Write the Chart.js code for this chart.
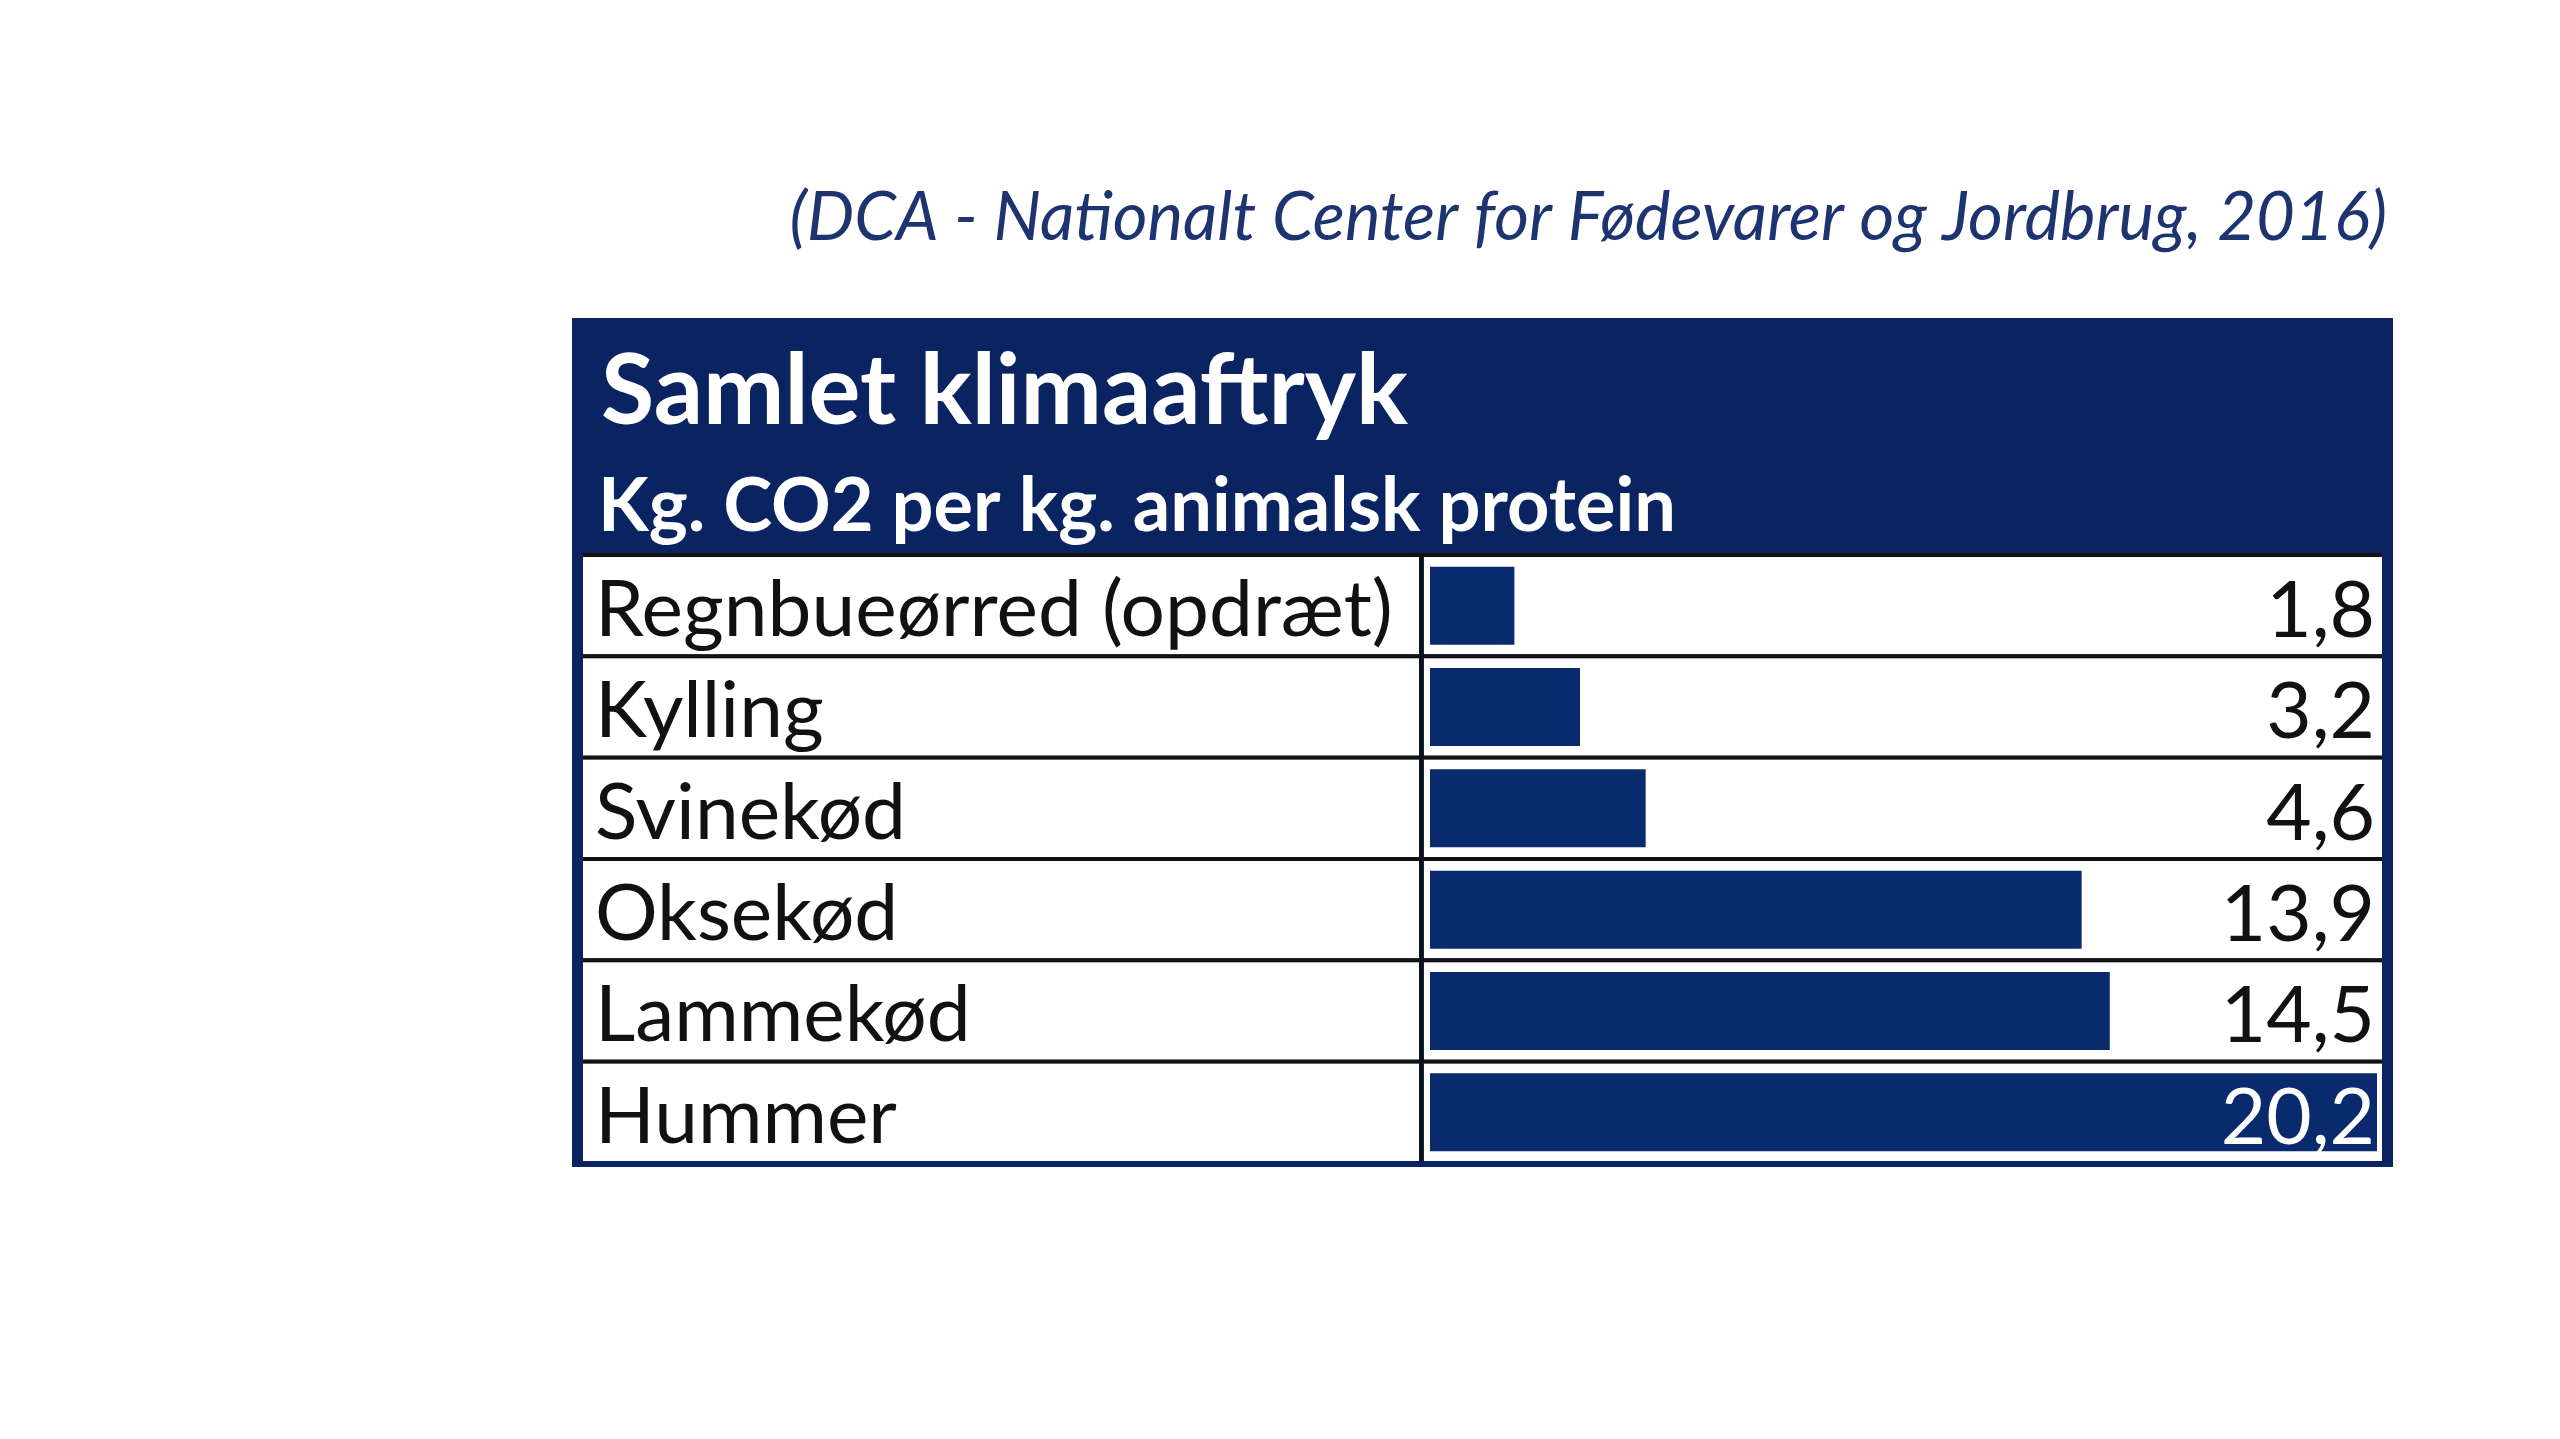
<!DOCTYPE html>
<html>
<head>
<meta charset="utf-8">
<script src="https://cdn.jsdelivr.net/npm/chart.js@4.4.1/dist/chart.umd.min.js"></script>
<style>
  html, body { margin: 0; padding: 0; background: #ffffff; }
  canvas { display: block; }
</style>
</head>
<body>
<canvas id="myChart" width="2560" height="1439"></canvas>
<script>

// data
const categories = ['Regnbueørred (opdræt)', 'Kylling', 'Svinekød', 'Oksekød', 'Lammekød', 'Hummer'];
const values = [1.8, 3.2, 4.6, 13.9, 14.5, 20.2];
const title = 'Samlet klimaaftryk';
const subtitle = 'Kg. CO2 per kg. animalsk protein';
const source = '(DCA - Nationalt Center for Fødevarer og Jordbrug, 2016)';

const navy = '#0a2361';
const barColor = '#0a2a6e';
const family = 'Lato, "Open Sans", sans-serif';

// pick a font size so a text gets a given width
const measure = document.createElement('canvas').getContext('2d');
function fitSize(text, font, width) {
  measure.font = font + ' 100px ' + family;
  return 100 * width / measure.measureText(text).width;
}

const labelSize = fitSize(categories[0], 'normal', 798);
const titleSize = fitSize(title, 'bold', 807);
const subSize = fitSize(subtitle, 'bold', 1078);
const sourceSize = fitSize(source, 'italic', 1598);

// box and table edges
const box = { left: 572, top: 318, right: 2393, bottom: 1167 };
const cellLeft = 583, cellRight = 2382, divider = 1419;

const tablePlugin = {
  id: 'table',
  beforeDraw(chart) {
    const c = chart.ctx;
    const area = chart.chartArea;
    const y = chart.scales.y;
    const rowH = area.height / categories.length;

    c.save();
    c.fillStyle = '#ffffff';
    c.fillRect(0, 0, chart.width, chart.height);

    // source line
    c.fillStyle = '#1d3470';
    c.font = 'italic ' + sourceSize + 'px ' + family;
    c.textAlign = 'right';
    c.textBaseline = 'alphabetic';
    c.fillText(source, 2387, 240);

    // dark box
    c.fillStyle = navy;
    c.fillRect(box.left, box.top, box.right - box.left, box.bottom - box.top);

    c.fillStyle = '#ffffff';
    c.textAlign = 'left';
    c.font = 'bold ' + titleSize + 'px ' + family;
    c.fillText(title, 601, 424);
    c.font = 'bold ' + subSize + 'px ' + family;
    c.fillText(subtitle, 598, 531);

    // rows
    for (let i = 0; i < categories.length; i++) {
      const mid = y.getPixelForValue(i);
      const top = mid - rowH / 2;
      const bottom = mid + rowH / 2;
      c.fillStyle = '#111111';
      c.fillRect(cellLeft, top - 2, cellRight - cellLeft, 4);
      c.fillStyle = '#ffffff';
      c.fillRect(cellLeft, top + 2, divider - cellLeft, bottom - top - 4);
      c.fillRect(divider + 5, top + 2, cellRight - divider - 5, bottom - top - 4);
    }
    c.fillStyle = '#111111';
    c.fillRect(divider, area.top - 2, 4, area.bottom - area.top);
    c.restore();
  },
  afterDatasetsDraw(chart) {
    const c = chart.ctx;
    const area = chart.chartArea;
    const bars = chart.getDatasetMeta(0).data;
    c.save();
    c.font = labelSize + 'px ' + family;
    c.textAlign = 'right';
    c.textBaseline = 'middle';
    bars.forEach(function (bar, i) {
      const text = values[i].toFixed(1).replace('.', ',');
      const w = c.measureText(text).width;
      const x = area.right - 2;
      c.fillStyle = bar.x >= x - w ? '#ffffff' : '#111111';
      c.fillText(text, x, bar.y + 6);
    });
    c.restore();
  }
};

const ctx = document.getElementById('myChart').getContext('2d');

const myChart = new Chart(ctx, {
  type: 'bar',
  data: {
    labels: categories,
    datasets: [{
      data: values,
      backgroundColor: barColor,
      borderWidth: 0,
      barPercentage: 0.77,
      categoryPercentage: 1
    }]
  },
  options: {
    indexAxis: 'y',
    responsive: false,
    animation: false,
    layout: { padding: { left: 595, right: 183, top: 555, bottom: 276 } },
    plugins: {
      legend: { display: false },
      tooltip: { enabled: false }
    },
    scales: {
      x: { display: false, min: 0, max: 20.2 },
      y: {
        afterFit(scale) { scale.width = 835; },
        grid: { display: false },
        border: { display: false },
        ticks: {
          autoSkip: false,
          crossAlign: 'far',
          labelOffset: 5,
          color: '#111111',
          font: { family: family, size: labelSize }
        }
      }
    }
  },
  plugins: [tablePlugin]
});
</script>
</body>
</html>
